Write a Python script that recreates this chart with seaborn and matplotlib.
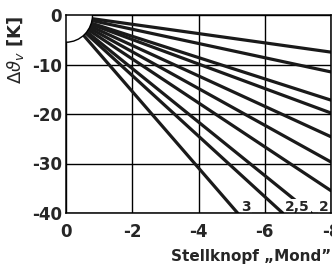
# Heizkurven: Vorlaufabsenkung ueber Stellknopf "Mond"

import numpy as np
import pandas as pd
import matplotlib.pyplot as plt
import matplotlib.patches as mpatches
import seaborn as sns

# flat curves, they leave the plot at the right border (x = -8): y there
edge_y = [-7.5, -11.5, -17.2, -19.8, -24.6, -29.7, -35.5]
# steep curves, they end at the bottom (y = -40): x there
bottom_x = [-7.4, -6.54, -5.18]
bottom_labels = ['2', '2,5', '3']
label_x = [-7.62, -6.62, -5.3]
xticks = [0, -2, -4, -6, -8]
yticks = [0, -10, -20, -30, -40]

rows = []
for i, yv in enumerate(edge_y):
    rows.append(('e%d' % i, 0, 0))
    rows.append(('e%d' % i, -8, yv))
for i, xv in enumerate(bottom_x):
    rows.append(('b%d' % i, 0, 0))
    rows.append(('b%d' % i, xv, -40))
df = pd.DataFrame(rows, columns=['curve', 'x', 'y'])

sns.set_style("white")
plt.rcParams['font.family'] = ['DejaVu Sans']
plt.rcParams['axes.unicode_minus'] = False

fig = plt.figure(figsize=(3.32, 2.70), dpi=100)
ax = fig.add_axes([66/332, 1-213/270, 265/332, 198/270])

sns.lineplot(data=df, x='x', y='y', units='curve', estimator=None, sort=False,
             color='#1a1a1a', lw=2.3, ax=ax)

# white quarter circle round the origin
ax.add_patch(mpatches.Ellipse((0, 0), 2*0.8, 2*5.5, fc='white', ec='black', lw=1, zorder=3))

for lx, lab in zip(label_x, bottom_labels):
    ax.text(lx, -39.6, lab, ha='left', va='baseline', fontsize=10, fontweight='bold',
            bbox=dict(fc='white', ec='none', pad=0.6), zorder=4)

ax.set_xlim(0, -8)
ax.set_ylim(-40, 0)
ax.set_xticks(xticks)
ax.set_yticks(yticks)
ax.grid(True, color='black', lw=1)
for s in ax.spines.values():
    s.set_color('black')
    s.set_linewidth(1.1)
    s.set_zorder(5)
ax.tick_params(axis='x', length=0, pad=7, labelsize=12)
ax.tick_params(axis='y', length=0, pad=3, labelsize=12)
for t in ax.get_xticklabels() + ax.get_yticklabels():
    t.set_fontweight('bold')
ax.set_xlabel('')
ax.set_ylabel('')

fig.text(15/332, 1-50/270, r'$\Delta\vartheta_v$ [K]', rotation=90, ha='center', va='center',
         fontsize=13, fontweight='bold')
fig.text(331/332, 1-257/270, 'Stellknopf \u201eMond\u201d', ha='right', va='center',
         fontsize=11, fontweight='bold')

plt.savefig('out.png', dpi=100)
